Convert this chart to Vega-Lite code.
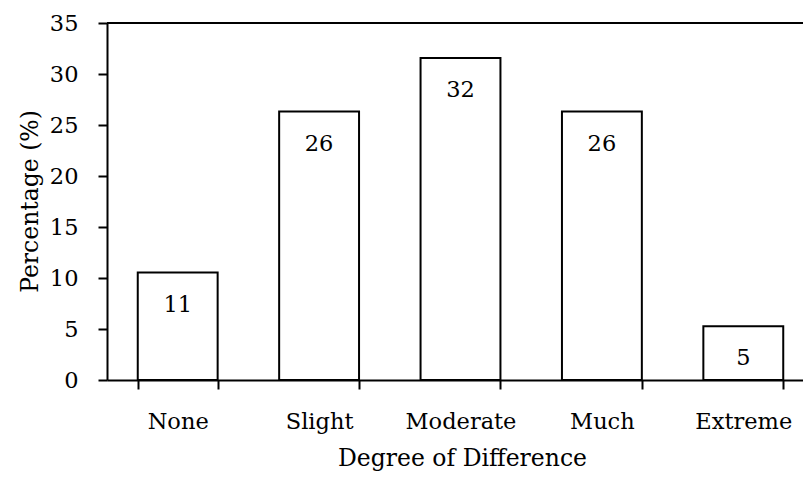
{
  "$schema": "https://vega.github.io/schema/vega-lite/v6.json",
  "width": 696,
  "height": 357,
  "autosize": {"type": "none"},
  "padding": {"left": 107, "top": 23, "right": 0, "bottom": 98},
  "background": "white",
  "config": {"view": {"stroke": null}, "font": "DejaVu Serif"},
  "data": {
    "values": [
      {"degree": "None", "percent": 10.53},
      {"degree": "Slight", "percent": 26.32},
      {"degree": "Moderate", "percent": 31.58},
      {"degree": "Much", "percent": 26.32},
      {"degree": "Extreme", "percent": 5.26}
    ]
  },
  "encoding": {
    "x": {
      "field": "degree",
      "type": "nominal",
      "sort": null,
      "scale": {"range": [0, 707], "paddingInner": 0.435, "paddingOuter": 0.2175},
      "axis": {
        "title": "Degree of Difference",
        "labelAngle": 0,
        "tickBand": "extent",
        "tickSize": 9,
        "tickWidth": 2,
        "tickColor": "black",
        "domainColor": "black",
        "domainWidth": 2,
        "labelFont": "DejaVu Serif",
        "labelFontSize": 22.5,
        "labelColor": "black",
        "labelPadding": 21,
        "titleFont": "DejaVu Serif",
        "titleFontSize": 23.5,
        "titleFontWeight": "normal",
        "titleColor": "black",
        "titleX": 355,
        "titleY": 85,
        "titleAlign": "center",
        "titleBaseline": "alphabetic",
        "zindex": 1
      }
    },
    "y": {
      "field": "percent",
      "type": "quantitative",
      "scale": {"domain": [0, 35], "nice": false},
      "axis": {
        "title": "Percentage (%)",
        "values": [0, 5, 10, 15, 20, 25, 30, 35],
        "grid": false,
        "tickSize": 9,
        "tickWidth": 2,
        "tickColor": "black",
        "domainColor": "black",
        "domainWidth": 2,
        "labelFont": "DejaVu Serif",
        "labelFontSize": 22.5,
        "labelColor": "black",
        "labelPadding": 20,
        "titleFont": "DejaVu Serif",
        "titleFontSize": 23.5,
        "titleFontWeight": "normal",
        "titleColor": "black",
        "titleAngle": -90,
        "titleX": -77,
        "titleY": 178,
        "titleAlign": "center",
        "titleBaseline": "middle",
        "zindex": 1
      }
    }
  },
  "layer": [
    {"mark": {"type": "bar", "fill": "white", "stroke": "black", "strokeWidth": 2}},
    {
      "mark": {"type": "text", "dy": 32, "fontSize": 22.5, "baseline": "middle", "color": "black"},
      "encoding": {"text": {"field": "percent", "type": "quantitative", "format": ".0f"}}
    },
    {
      "mark": {"type": "rule", "strokeWidth": 2, "color": "black"},
      "encoding": {"x": null, "y": {"datum": 35}}
    }
  ]
}
